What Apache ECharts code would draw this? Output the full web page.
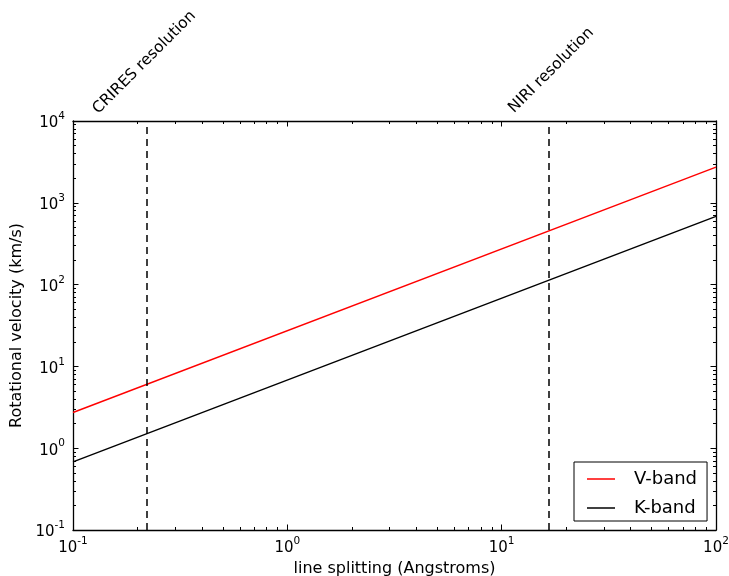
<!DOCTYPE html>
<html>
<head>
<meta charset="utf-8">
<script src="https://cdn.jsdelivr.net/npm/echarts@6/dist/echarts.min.js"></script>
<style>
  html, body { margin: 0; padding: 0; background: #fff; }
  #chart { width: 729px; height: 576px; }
</style>
</head>
<body>
<div id="chart"></div>
<script>
// Line splitting (Angstroms) at the ends of each curve
const splitting = [0.1, 100];
// Rotational velocity (km/s) needed to produce that splitting
const vBand = [2.73, 2727];
const kBand = [0.682, 682];
const seriesNames = ['V-band', 'K-band'];
const seriesColors = ['#ff0000', '#000000'];

// Instrument resolution limits (Angstroms)
const resolutionX = [0.217, 16.6];
const resolutionNames = ['CRIRES resolution', 'NIRI resolution'];

// Decade tick values
const xTicks = [0.1, 1, 10, 100];
const yTicks = [0.1, 1, 10, 100, 1000, 10000];

const FONT = 'DejaVu Sans';

function powLabel(v) {
  const e = Math.round(Math.log10(v));
  return '{b|10}{s|' + e + '}';
}
const richPow = {
  b: { fontFamily: FONT, fontSize: 15, color: '#000', verticalAlign: 'bottom', lineHeight: 20 },
  s: { fontFamily: FONT, fontSize: 10.5, color: '#000', verticalAlign: 'top', lineHeight: 20, padding: [0, 0, 9, 0] }
};

// Log axis with inward major/minor ticks; the top and right copies only close the frame
function makeAxis(kind, pos, withLabels) {
  const ticks = kind === 'x' ? xTicks : yTicks;
  const axis = {
    type: 'log',
    logBase: 10,
    position: pos,
    min: ticks[0],
    max: ticks[ticks.length - 1],
    splitNumber: ticks.length - 1,
    splitLine: { show: false },
    minorSplitLine: { show: false },
    axisLine: { show: true, onZero: false, lineStyle: { color: '#000', width: 1.3 } },
    axisTick: { show: true, inside: true, length: 5.5, lineStyle: { color: '#000', width: 1 } },
    minorTick: { show: true, splitNumber: 9, length: 3, lineStyle: { color: '#000', width: 1 } },
    axisLabel: { show: false }
  };
  if (withLabels) {
    axis.axisLabel = {
      show: true,
      customValues: ticks,
      formatter: powLabel,
      rich: richPow,
      margin: kind === 'x' ? 6 : 8
    };
  }
  return axis;
}

const xAxes = [makeAxis('x', 'bottom', true), makeAxis('x', 'top', false)];
Object.assign(xAxes[0], {
  name: 'line splitting (Angstroms)',
  nameLocation: 'middle',
  nameGap: 28,
  nameTextStyle: { fontFamily: FONT, fontSize: 16, color: '#000' }
});

const yAxes = [makeAxis('y', 'left', true), makeAxis('y', 'right', false)];
Object.assign(yAxes[0], {
  name: 'Rotational velocity (km/s)',
  nameLocation: 'middle',
  nameGap: 43,
  nameTextStyle: { fontFamily: FONT, fontSize: 16, color: '#000' }
});

const chart = echarts.init(document.getElementById('chart'), null, { renderer: 'canvas' });

chart.setOption({
  animation: false,
  backgroundColor: '#fff',
  grid: { left: 73, right: 13, top: 121, bottom: 46, containLabel: false, outerBoundsMode: 'none' },
  xAxis: xAxes,
  yAxis: yAxes,
  legend: {
    data: seriesNames,
    orient: 'vertical',
    left: 574,
    top: 462,
    padding: [8, 10, 4, 13],
    icon: 'rect',
    itemWidth: 28,
    itemHeight: 1.5,
    itemGap: 11,
    borderColor: '#000',
    borderWidth: 1,
    borderRadius: 0,
    textStyle: { fontFamily: FONT, fontSize: 18, lineHeight: 17, color: '#000', padding: [0, 0, 0, 14] }
  },
  series: [
    {
      name: seriesNames[0],
      type: 'line',
      data: splitting.map((x, i) => [x, vBand[i]]),
      symbol: 'none',
      lineStyle: { color: seriesColors[0], width: 1.4 },
      itemStyle: { color: seriesColors[0] },
      markLine: {
        silent: true,
        symbol: 'none',
        label: { show: false },
        lineStyle: { color: '#000', width: 1.5, type: [7, 5] },
        data: resolutionX.map(x => ({ xAxis: x }))
      }
    },
    {
      name: seriesNames[1],
      type: 'line',
      data: splitting.map((x, i) => [x, kBand[i]]),
      symbol: 'none',
      lineStyle: { color: seriesColors[1], width: 1.4 },
      itemStyle: { color: seriesColors[1] }
    }
  ]
});

// Rotated resolution captions above the plot, anchored relative to each dashed line
const px = v => chart.convertToPixel({ xAxisIndex: 0 }, v);
const py = v => chart.convertToPixel({ yAxisIndex: 0 }, v);
const plotTop = py(yTicks[yTicks.length - 1]);
const captionOffsets = [[-44, -4], [-32, -5]];
const captions = resolutionX.map((x, i) => ({
  type: 'text',
  x: px(x) + captionOffsets[i][0],
  y: plotTop + captionOffsets[i][1],
  rotation: Math.PI / 4,
  style: {
    text: resolutionNames[i],
    fontFamily: FONT,
    fontSize: 15.5,
    fill: '#000',
    align: 'left',
    verticalAlign: 'bottom'
  }
}));

chart.setOption({ graphic: { elements: captions } });
</script>
</body>
</html>
